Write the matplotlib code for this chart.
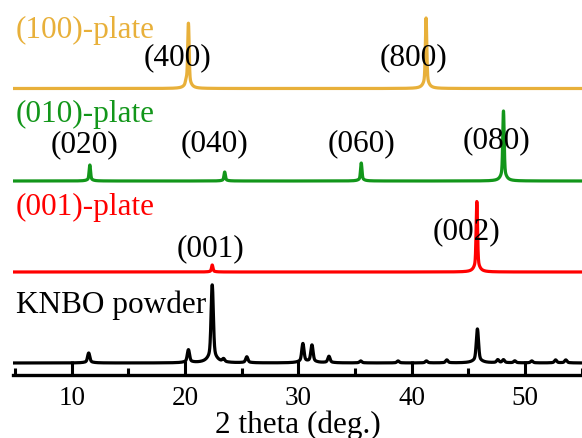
import matplotlib
matplotlib.use('Agg')
import matplotlib.pyplot as plt
import numpy as np

plt.rcParams['font.family'] = ['Liberation Serif', 'DejaVu Serif']

# peak positions (2 theta, deg) and heights (a.u.)
powder_pos = [11.5, 20.3, 22.4, 23.4, 25.45, 30.4, 31.2, 32.7, 35.5, 38.8, 41.3, 43.1,
              45.8, 47.6, 48.1, 49.1, 50.6, 52.7, 53.6]
powder_h = [10, 13, 78, 3, 6, 19, 17.5, 6.5, 2, 2, 2, 3, 34, 3, 3, 2, 2, 3, 3]

p001_pos = [22.4, 45.75]
p001_h = [7, 70.5]

p010_pos = [11.6, 23.5, 35.55, 48.1]
p010_h = [16, 9, 18, 70]

p100_pos = [20.1, 20.3, 41.27]
p100_h = [4, 65, 70.5]

# vertical offsets of the stacked patterns
offsets = {'powder': 0, '001': 91, '010': 182, '100': 274.5}

colors = {'powder': 'black', '001': '#FF0000', '010': '#12961A', '100': '#E8B03A'}

hkl_labels = ['(400)', '(800)', '(020)', '(040)', '(060)', '(080)', '(001)', '(002)']
hkl_x = [19.34, 40.2, 11.17, 22.56, 35.6, 47.52, 22.27, 44.86]
hkl_y = [306.5, 306.5, 219, 220, 220, 223, 115, 132.3]

tt = np.linspace(4.82, 55.03, 6000)


def trace(pos, hgt, fwhm):
    y = np.zeros_like(tt)
    for p, h in zip(pos, hgt):
        g = np.exp(-4 * np.log(2) * ((tt - p) / fwhm) ** 2)
        lo = 1 / (1 + 4 * ((tt - p) / (3 * fwhm)) ** 2)
        y += h * (0.8 * g + 0.2 * lo)
    return y


fig = plt.figure(figsize=(5.82, 4.39), dpi=100)
ax = fig.add_axes([13 / 582, 0.1424, 1 - 13 / 582, 1 - 0.1424])

ax.plot(tt, trace(powder_pos, powder_h, 0.22) + offsets['powder'], color=colors['powder'], lw=2.3)
ax.plot(tt, trace(p001_pos, p001_h, 0.14) + offsets['001'], color=colors['001'], lw=2.3)
ax.plot(tt, trace(p010_pos, p010_h, 0.14) + offsets['010'], color=colors['010'], lw=2.3)
ax.plot(tt, trace(p100_pos, p100_h, 0.14) + offsets['100'], color=colors['100'], lw=2.3)

# sample names
ax.text(5.08, 334, '(100)-plate', color=colors['100'], fontsize=22.5, va='center')
ax.text(5.08, 250, '(010)-plate', color=colors['010'], fontsize=22.5, va='center')
ax.text(5.08, 157, '(001)-plate', color=colors['001'], fontsize=22.5, va='center')
ax.text(5.08, 59, 'KNBO powder', color='black', fontsize=22.5, va='center')

for lab, x, y in zip(hkl_labels, hkl_x, hkl_y):
    ax.text(x, y, lab, fontsize=22.5, ha='center', va='center')

ax.set_xlim(4.82, 55.03)
ax.set_ylim(-12.5, 364)
ax.set_xticks([10, 20, 30, 40, 50])
ax.set_xticks(np.arange(5, 56, 5), minor=True)
ax.set_yticks([])
for s in ['left', 'right', 'top']:
    ax.spines[s].set_visible(False)
ax.spines['bottom'].set_linewidth(2.4)
ax.tick_params(axis='x', which='major', direction='in', length=10, width=2.2, pad=6.5, labelsize=19.5)
ax.tick_params(axis='x', which='minor', direction='in', length=5, width=2.2)
ax.set_xlabel('2 theta (deg.)', fontsize=22.5, labelpad=0)
ax.patch.set_alpha(0)

fig.savefig('out.png', dpi=100)
